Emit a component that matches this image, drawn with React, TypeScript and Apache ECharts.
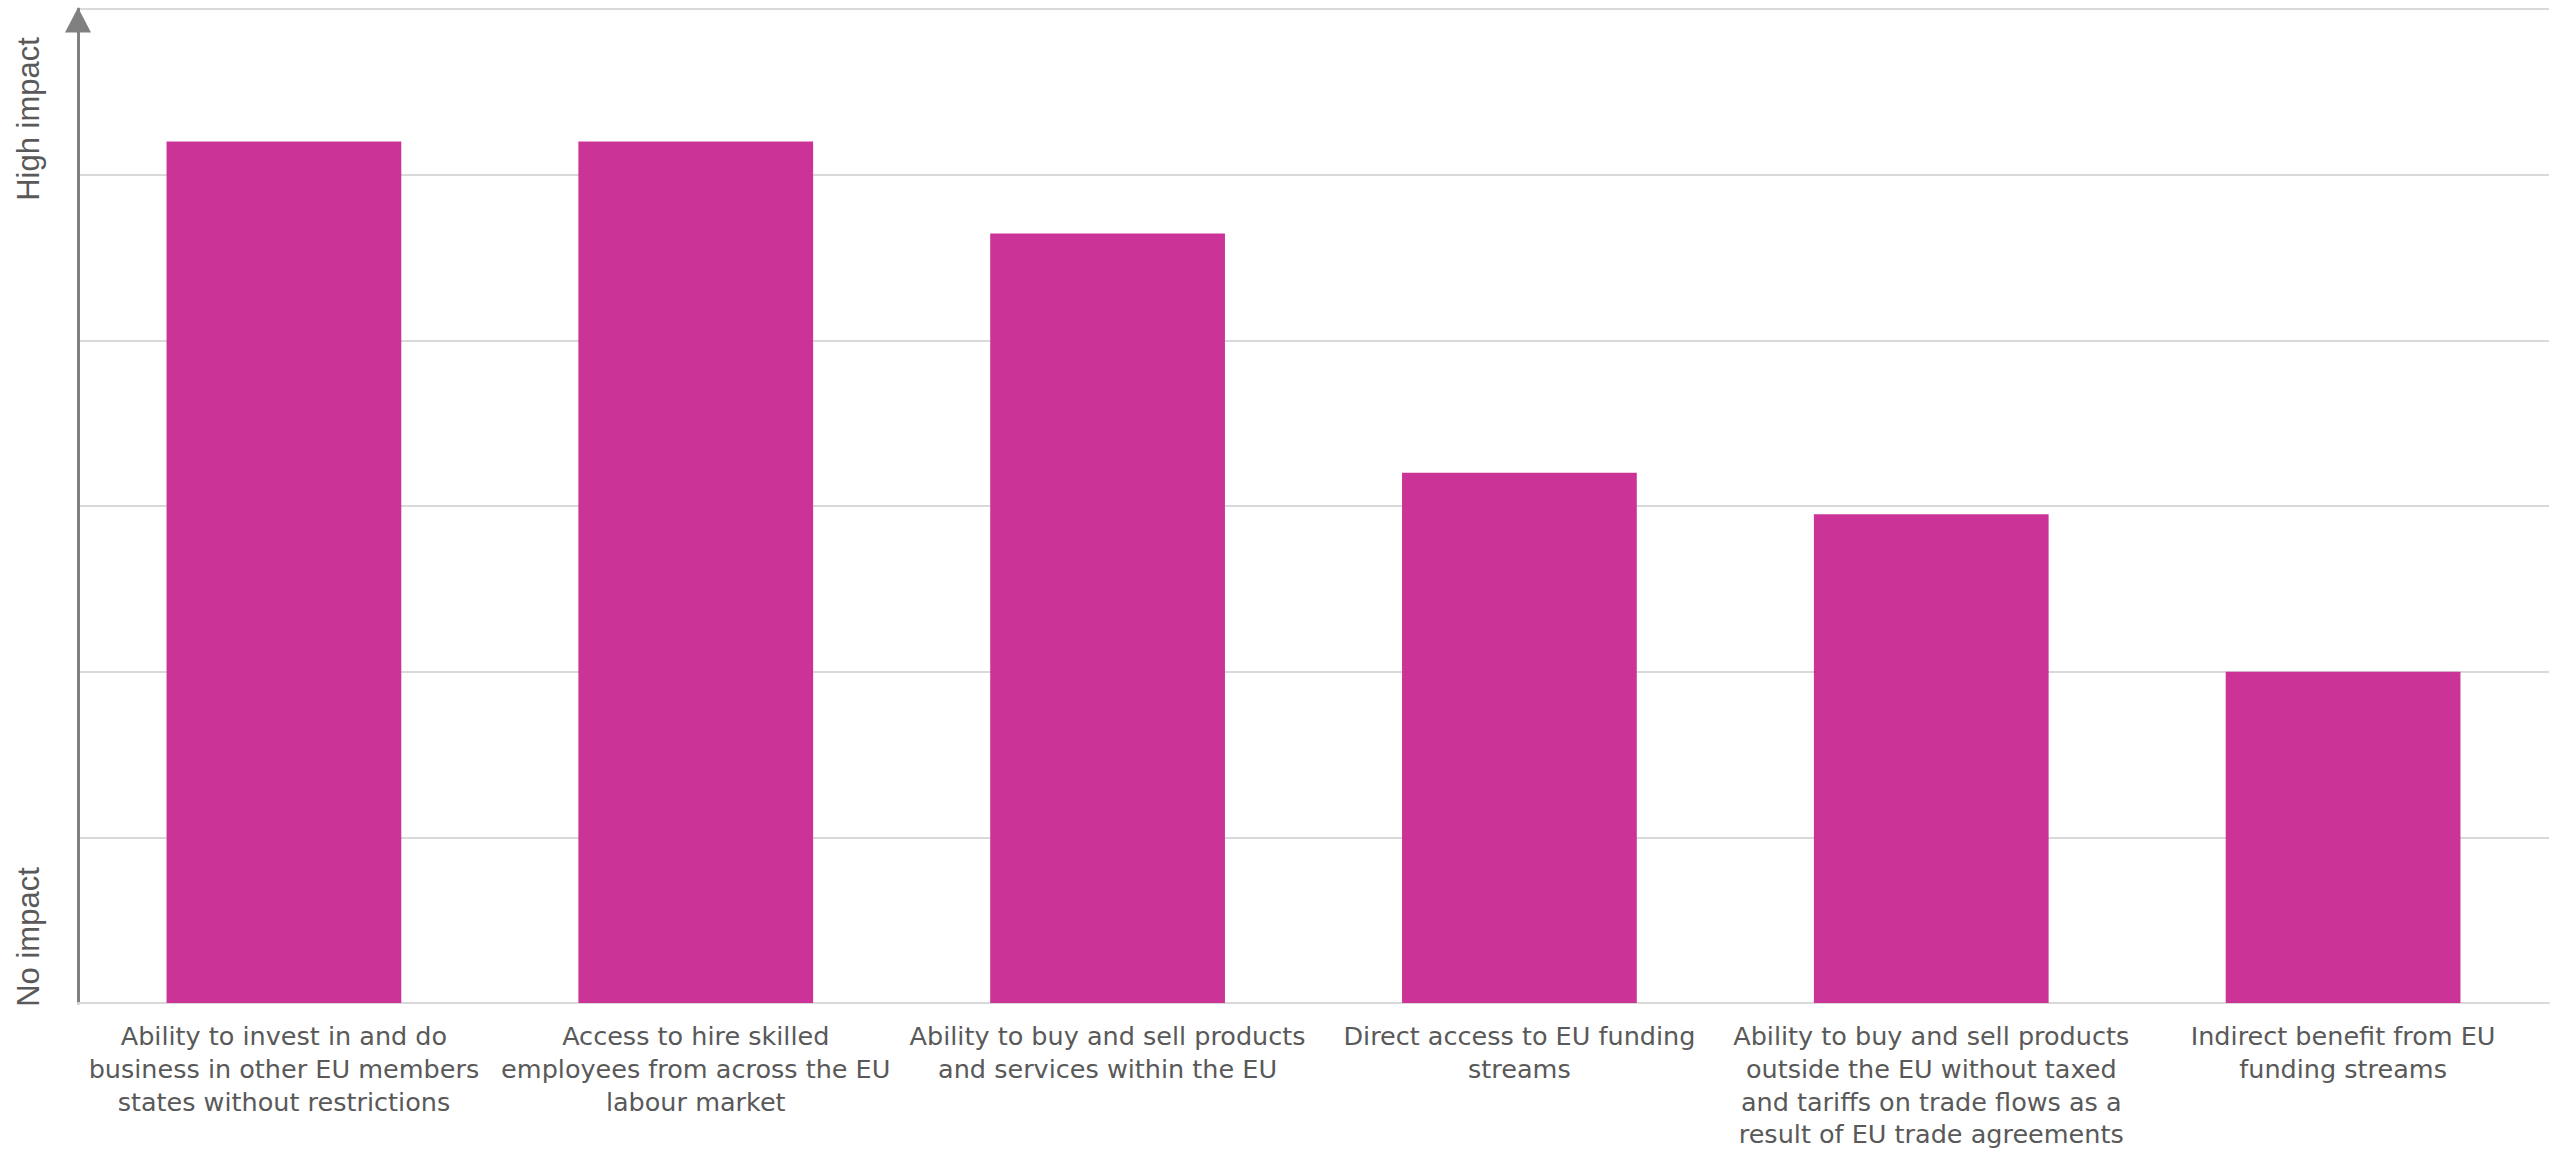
import React, { useEffect, useRef } from "react";
import * as echarts from "echarts";

// Survey categories, one bar each; line breaks follow the printed layout
const categories: string[] = [
  "Ability to invest in and do\nbusiness in other EU members\nstates without restrictions",
  "Access to hire skilled\nemployees from across the EU\nlabour market",
  "Ability to buy and sell products\nand services within the EU",
  "Direct access to EU funding\nstreams",
  "Ability to buy and sell products\noutside the EU without taxed\nand tariffs on trade flows as a\nresult of EU trade agreements",
  "Indirect benefit from EU\nfunding streams",
];

// Average perceived impact on a 0 (no impact) to 6 (high impact) scale
const impactScores: number[] = [5.2, 5.2, 4.645, 3.2, 2.95, 2.0];

// Ends of the impact scale
const scaleMin = 0;
const scaleMax = 6;
const scaleStep = 1;
const scaleEndLabels: string[] = ["No impact", "High impact"];

const BAR_COLOR = "#CB3396";
const TEXT_COLOR = "#595959";
const GRID_COLOR = "#D9D9D9";
const AXIS_COLOR = "#808080";

export default function App() {
  const ref = useRef<HTMLDivElement>(null);

  useEffect(() => {
    if (!ref.current) return;
    const chart = echarts.init(ref.current, null, { renderer: "svg" });

    chart.setOption({
      animation: false,
      backgroundColor: "#FFFFFF",
      grid: { left: 78, right: 12, top: 9, bottom: 151, containLabel: false },
      xAxis: {
        type: "category",
        data: categories,
        axisTick: { show: false },
        axisLine: { show: true, lineStyle: { color: GRID_COLOR, width: 2 } },
        axisLabel: {
          interval: 0,
          margin: 17,
          color: TEXT_COLOR,
          fontFamily: "DejaVu Sans",
          fontSize: 25.5,
          lineHeight: 32.7,
          align: "center",
        },
      },
      yAxis: {
        type: "value",
        min: scaleMin,
        max: scaleMax,
        interval: scaleStep,
        axisLabel: { show: false },
        axisTick: { show: false },
        axisLine: {
          show: true,
          symbol: ["none", "triangle"],
          symbolSize: [26, 25],
          symbolOffset: [0, -11],
          lineStyle: { color: AXIS_COLOR, width: 3 },
        },
        splitLine: { show: true, lineStyle: { color: GRID_COLOR, width: 2 } },
      },
      graphic: [
        {
          type: "text",
          x: 28,
          y: 937,
          rotation: Math.PI / 2,
          style: {
            text: scaleEndLabels[0],
            fill: TEXT_COLOR,
            font: '31px "Liberation Sans", Arial, sans-serif',
            align: "center",
            verticalAlign: "middle",
          },
        },
        {
          type: "text",
          x: 28,
          y: 119,
          rotation: Math.PI / 2,
          style: {
            text: scaleEndLabels[1],
            fill: TEXT_COLOR,
            font: '31px "Liberation Sans", Arial, sans-serif',
            align: "center",
            verticalAlign: "middle",
          },
        },
      ],
      series: [
        {
          type: "bar",
          data: impactScores,
          barWidth: "57%",
          itemStyle: { color: BAR_COLOR },
          z: 3,
        },
      ],
    });

    return () => chart.dispose();
  }, []);

  return (
    <div
      ref={ref}
      style={{ position: "fixed", left: 0, top: 0, width: 2561, height: 1154 }}
    />
  );
}
